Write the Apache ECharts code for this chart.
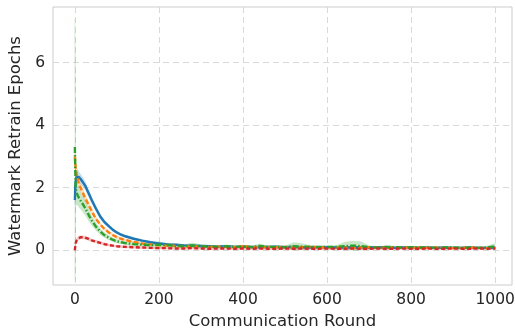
<!DOCTYPE html>
<html><head><meta charset="utf-8">
<script src="https://cdn.jsdelivr.net/npm/echarts@6/dist/echarts.min.js"></script>
<style>html,body{margin:0;padding:0;background:#fff}#c{width:515px;height:336px}</style>
</head><body><div id="c"></div>
<script>
const rounds = [0,1,2,4,6,8,10,15,20,25,30,35,40,50,60,70,80,90,100,110,120,140,160,180,
  200,220,240,260,280,300,320,340,360,380,
  400,420,440,460,480,500,520,540,560,580,
  600,620,640,660,680,700,720,740,760,780,
  800,820,840,860,880,900,920,940,960,980,
  1000];
const blueMean = [1.6,2.0,2.2,2.35,2.4,2.38,2.33,2.25,2.15,2.05,1.9,1.75,1.6,1.33,1.08,0.9,0.77,0.65,0.56,0.49,0.44,0.36,0.3,0.25,
  0.21,0.18,0.17,0.15,0.14,0.13,0.12,0.11,0.12,0.1,
  0.11,0.1,0.09,0.1,0.11,0.09,0.1,0.09,0.08,0.1,
  0.09,0.08,0.09,0.08,0.09,0.08,0.08,0.09,0.07,0.08,
  0.08,0.07,0.08,0.07,0.08,0.07,0.07,0.08,0.07,0.07,
  0.08];
const blueBand = [0.15,0.2,0.2,0.2,0.18,0.17,0.16,0.15,0.14,0.13,0.12,0.11,0.1,0.09,0.08,0.07,0.06,0.05,0.05,0.04,0.04,0.04,0.03,0.03,
  0.03,0.03,0.03,0.03,0.03,0.03,0.03,0.03,0.03,0.03,
  0.03,0.03,0.03,0.03,0.03,0.03,0.03,0.03,0.03,0.03,
  0.03,0.03,0.03,0.03,0.03,0.03,0.03,0.03,0.03,0.03,
  0.03,0.03,0.03,0.03,0.03,0.03,0.03,0.03,0.03,0.03,
  0.03];
const orangeMean = [3.0,2.8,2.6,2.45,2.3,2.2,2.1,1.95,1.8,1.65,1.52,1.38,1.25,1.0,0.82,0.68,0.57,0.48,0.41,0.36,0.32,0.26,0.21,0.18,
  0.15,0.14,0.13,0.12,0.11,0.12,0.1,0.11,0.1,0.09,
  0.12,0.1,0.09,0.1,0.09,0.1,0.08,0.09,0.1,0.09,
  0.08,0.09,0.08,0.07,0.08,0.09,0.08,0.07,0.08,0.08,
  0.07,0.08,0.07,0.08,0.07,0.06,0.07,0.08,0.07,0.06,
  0.07];
const orangeBand = [0.3,0.25,0.2,0.18,0.16,0.15,0.14,0.13,0.12,0.11,0.1,0.09,0.08,0.07,0.06,0.05,0.05,0.04,0.04,0.04,0.03,0.03,0.03,0.03,
  0.03,0.03,0.03,0.03,0.03,0.04,0.03,0.03,0.03,0.03,
  0.04,0.03,0.03,0.03,0.03,0.03,0.04,0.03,0.03,0.03,
  0.03,0.03,0.03,0.03,0.03,0.03,0.03,0.03,0.03,0.03,
  0.03,0.03,0.03,0.03,0.03,0.03,0.03,0.03,0.03,0.03,
  0.03];
const greenMean = [3.3,2.6,2.0,1.85,1.78,1.72,1.66,1.55,1.45,1.33,1.2,1.07,0.95,0.75,0.6,0.48,0.4,0.33,0.28,0.25,0.22,0.19,0.17,0.16,
  0.17,0.16,0.13,0.12,0.15,0.12,0.11,0.1,0.12,0.1,
  0.11,0.09,0.13,0.1,0.1,0.09,0.12,0.11,0.1,0.09,
  0.1,0.1,0.12,0.14,0.13,0.09,0.08,0.1,0.09,0.08,
  0.09,0.08,0.08,0.07,0.08,0.08,0.07,0.08,0.07,0.08,
  0.12];
const greenBand = [4.1,3.6,0.6,0.4,0.35,0.3,0.3,0.25,0.25,0.22,0.2,0.18,0.15,0.12,0.1,0.08,0.07,0.06,0.06,0.05,0.05,0.05,0.05,0.06,
  0.1,0.06,0.05,0.05,0.08,0.05,0.04,0.04,0.05,0.04,
  0.05,0.04,0.07,0.04,0.04,0.04,0.12,0.1,0.05,0.04,
  0.04,0.04,0.12,0.15,0.14,0.05,0.04,0.04,0.04,0.04,
  0.04,0.03,0.03,0.03,0.03,0.03,0.03,0.03,0.03,0.04,
  0.1];
const redMean = [0.0,0.12,0.22,0.3,0.34,0.37,0.39,0.41,0.41,0.39,0.37,0.34,0.31,0.27,0.23,0.19,0.16,0.14,0.12,0.11,0.1,0.09,0.08,0.07,
  0.06,0.06,0.05,0.05,0.06,0.05,0.04,0.05,0.05,0.04,
  0.05,0.04,0.05,0.04,0.04,0.05,0.04,0.05,0.04,0.04,
  0.05,0.04,0.04,0.05,0.04,0.04,0.05,0.04,0.04,0.05,
  0.04,0.04,0.05,0.04,0.04,0.05,0.04,0.04,0.05,0.04,
  0.05];
const redBand = [0.05,0.06,0.06,0.06,0.06,0.06,0.06,0.05,0.05,0.05,0.05,0.05,0.04,0.04,0.04,0.04,0.03,0.03,0.03,0.03,0.03,0.03,0.03,0.03,
  0.03,0.03,0.03,0.03,0.03,0.03,0.03,0.03,0.03,0.03,
  0.03,0.03,0.03,0.03,0.03,0.03,0.03,0.03,0.03,0.03,
  0.03,0.03,0.03,0.03,0.03,0.03,0.03,0.03,0.03,0.03,
  0.03,0.03,0.03,0.03,0.03,0.03,0.03,0.03,0.03,0.03,
  0.03];
const xTicks = [0,200,400,600,800,1000];
const yTicks = [0,2,4,6];

const defs = [
  {name:'blue', mean:blueMean, band:blueBand, color:'#1f77b4', type:'solid'},
  {name:'orange', mean:orangeMean, band:orangeBand, color:'#ff7f0e', type:[5,2.5]},
  {name:'green', mean:greenMean, band:greenBand, color:'#2ca02c', type:[6,2,1.5,2]},
  {name:'red', mean:redMean, band:redBand, color:'#d62728', type:[4,2.5]}
];
const series = [];
defs.forEach(d => {
  series.push({type:'custom', silent:true, clip:true,
    data:[[0]],
    renderItem:function(params, api){
      const up = [], lo = [];
      for (let i=0;i<rounds.length;i++){
        up.push(api.coord([rounds[i], d.mean[i]+d.band[i]]));
        lo.push(api.coord([rounds[i], d.mean[i]-d.band[i]]));
      }
      const pts = up.concat(lo.reverse());
      return {type:'polygon', shape:{points:pts},
        style:{fill:d.color, opacity:0.25, stroke:d.color, lineWidth:0.6, strokeOpacity:0.5}};
    }});
});
defs.forEach(d => {
  series.push({type:'line', symbol:'none', silent:true,
    lineStyle:{color:d.color, width:2.4, type:d.type}, data: rounds.map((r,i)=>[r, d.mean[i]])});
});
const font = 'DejaVu Sans';
const chart = echarts.init(document.getElementById('c'));
chart.setOption({
  animation:false,
  grid:{left:53, right:3, top:7, bottom:51, show:true, borderColor:'#cccccc', borderWidth:1,
    containLabel:false, outerBoundsMode:'none'},
  xAxis:{type:'value', min:-52, max:1040,
    name:'Communication Round', nameLocation:'middle', nameGap:28,
    nameTextStyle:{fontFamily:font, fontSize:16.5, color:'#262626'},
    axisLine:{show:false}, axisTick:{show:false, customValues:xTicks},
    axisLabel:{customValues:xTicks, formatter:v=>String(v), fontFamily:font, fontSize:15.5, color:'#262626', margin:7},
    splitLine:{show:true, lineStyle:{color:'#d9d9d9', type:[6,4], width:1}}},
  yAxis:{type:'value', min:-1.12, max:7.78,
    name:'Watermark Retrain Epochs', nameLocation:'middle', nameGap:28,
    nameTextStyle:{fontFamily:font, fontSize:16.5, color:'#262626'},
    axisLine:{show:false}, axisTick:{show:false, customValues:yTicks},
    axisLabel:{customValues:yTicks, formatter:v=>String(v), fontFamily:font, fontSize:15.5, color:'#262626', margin:8},
    splitLine:{show:true, lineStyle:{color:'#d9d9d9', type:[6,4], width:1}}},
  series: series
});
</script></body></html>
